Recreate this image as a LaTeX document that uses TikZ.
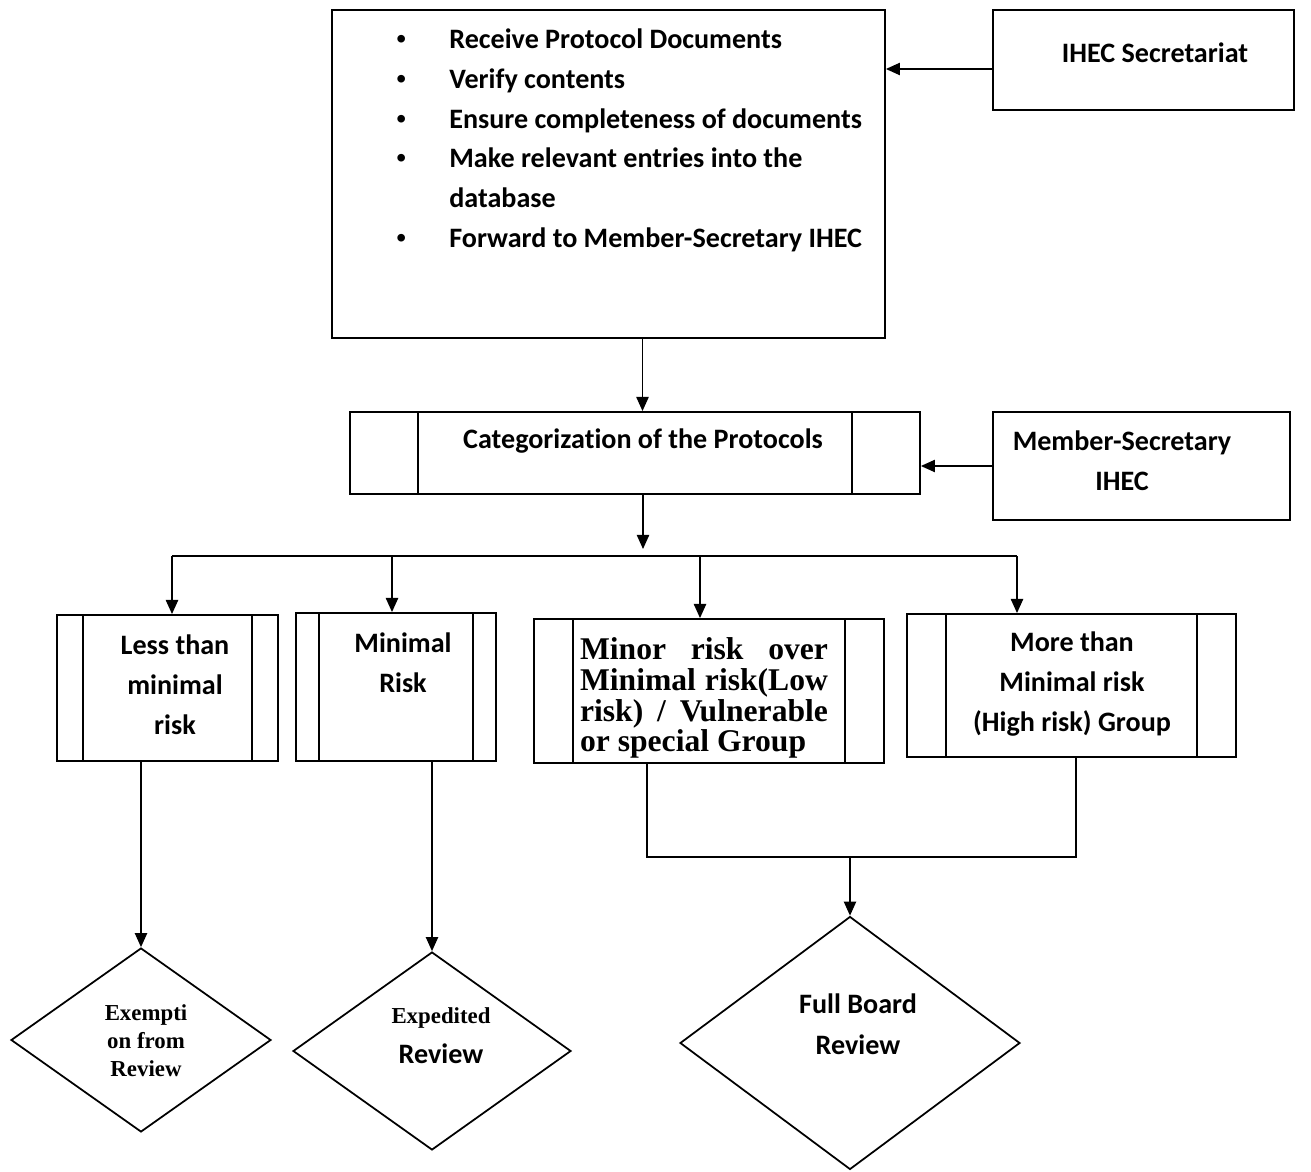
\documentclass[tikz,border=0pt]{standalone}
\usepackage{fontspec}
\setmainfont[Ligatures=NoCommon]{Carlito}
\newfontfamily\timesfont{Liberation Serif}
\usetikzlibrary{arrows.meta,shapes.geometric}
\tikzset{
  box/.style={draw,line width=1.1pt,rectangle,inner sep=0pt},
  choice/.style={draw,line width=1pt,diamond,inner sep=0pt},
  txt/.style={inner sep=0pt,align=center,font=\fontsize{16}{22.7}\selectfont\bfseries},
  serif/.style={inner sep=0pt,font=\timesfont\fontsize{18}{17.6}\selectfont\bfseries},
  link/.style={line width=0.8pt}
}
% side bars of a process box
\newcommand{\sidebars}[2]{%
  \draw[line width=1pt] ([xshift=#2]#1.north west) -- ([xshift=#2]#1.south west);
  \draw[line width=1pt] ([xshift=-#2]#1.north east) -- ([xshift=-#2]#1.south east);}
\newcommand{\stepdot}{{\timesfont\textbullet}}
\begin{document}
\begin{tikzpicture}[x=0.02cm,y=-0.02cm,>={Triangle[length=8pt,width=7pt]}]
  \useasboundingbox (0,0) rectangle (1311,1172);
  % secretariat step
  \node[box,minimum width=11.06cm,minimum height=6.56cm] (top) at (608.5,174) {};
  \node[anchor=north west,inner sep=0pt,font=\fontsize{16}{22.7}\selectfont\bfseries] (steps) at (396,20)
    {\begin{tabular}{@{}p{1.06cm}@{}l@{}}
      \stepdot & Receive Protocol Documents\\
      \stepdot & Verify contents\\
      \stepdot & Ensure completeness of documents\\
      \stepdot & Make relevant entries into the\\
               & database\\
      \stepdot & Forward to Member-Secretary IHEC
    \end{tabular}};
  \node[box,minimum width=6.02cm,minimum height=2cm] (sec) at (1143.5,60) {};
  \node[txt] (sectxt) at (1155,53) {IHEC Secretariat};
  % categorization
  \node[box,minimum width=11.4cm,minimum height=1.64cm] (cat) at (635,453) {};
  \sidebars{cat}{1.38cm}
  \node[txt] (cattxt) at (643,441) {Categorization of the Protocols};
  \node[box,minimum width=5.94cm,minimum height=2.16cm] (ms) at (1141.5,466) {};
  \node[txt] (mstxt) at (1122,461) {Member-Secretary\\IHEC};
  % risk groups
  \node[box,minimum width=4.42cm,minimum height=2.92cm] (b1) at (167.5,688) {};
  \sidebars{b1}{0.54cm}
  \node[txt] (b1txt) at (175,685) {Less than\\minimal\\risk};
  \node[box,minimum width=4cm,minimum height=2.96cm] (b2) at (396,687) {};
  \sidebars{b2}{0.48cm}
  \node[txt] (b2txt) at (403,663) {Minimal\\Risk};
  \node[box,minimum width=7cm,minimum height=2.88cm] (b3) at (709,691) {};
  \sidebars{b3}{0.8cm}
  \node[serif,text width=4.96cm,align=justify] (b3txt) at (704,698)
    {Minor risk over\linebreak Minimal risk(Low\linebreak risk) / Vulnerable\linebreak or special Group};
  \node[box,minimum width=6.58cm,minimum height=2.86cm] (b4) at (1071.5,685.5) {};
  \sidebars{b4}{0.8cm}
  \node[txt] (b4txt) at (1072,684) {More than\\Minimal risk\\(High risk) Group};
  % review types
  \node[choice,minimum width=5.2cm,minimum height=3.68cm] (d1) at (141,1040) {};
  \node[inner sep=0pt,align=center,font=\timesfont\fontsize{13}{15.9}\selectfont\bfseries] (d1txt) at (146,1041)
    {Exempti\\on from\\Review};
  \node[choice,minimum width=5.56cm,minimum height=3.96cm] (d2) at (432,1051) {};
  \node[txt] (d2txt) at (441,1036) {{\timesfont\fontsize{13}{15.9}\selectfont\bfseries Expedited}\\Review};
  \node[choice,minimum width=6.8cm,minimum height=5.06cm] (d3) at (850,1043) {};
  \node[txt,font=\fontsize{16}{23.2}\selectfont\bfseries] (d3txt) at (858,1024) {Full Board\\Review};
  % connectors
  \coordinate (secin) at ([yshift=-0.18cm]sec.west);
  \draw[->,link] (secin) -- (secin -| top.east);
  \coordinate (topout) at ([xshift=0.68cm]top.south);
  \draw[->,link] (topout) -- (topout |- cat.north);
  \draw[->,link] (ms.west) -- (ms.west -| cat.east);
  \coordinate (busA) at (172,556);
  \coordinate (busB) at (392,556);
  \coordinate (busC) at (700,556);
  \coordinate (busD) at (1017,556);
  \draw[link] (busA) -- (busD);
  \coordinate (catout) at ([xshift=0.16cm]cat.south);
  \draw[->,link] (catout) -- ([yshift=0.14cm]catout |- busA);
  \foreach \b/\n in {busA/b1,busB/b2,busC/b3,busD/b4}
    \draw[->,link] (\b) -- (\b |- \n.north);
  \draw[->,link] (d1.north |- b1.south) -- (d1.north);
  \draw[->,link] (d2.north |- b2.south) -- (d2.north);
  \coordinate (jl) at (647,857);
  \coordinate (jr) at (1076,857);
  \coordinate (jm) at (850,857);
  \draw[link] (jl |- b3.south) -- (jl) -- (jr) -- (jr |- b4.south);
  \draw[->,link] (jm) -- (d3.north);
\end{tikzpicture}
\end{document}
